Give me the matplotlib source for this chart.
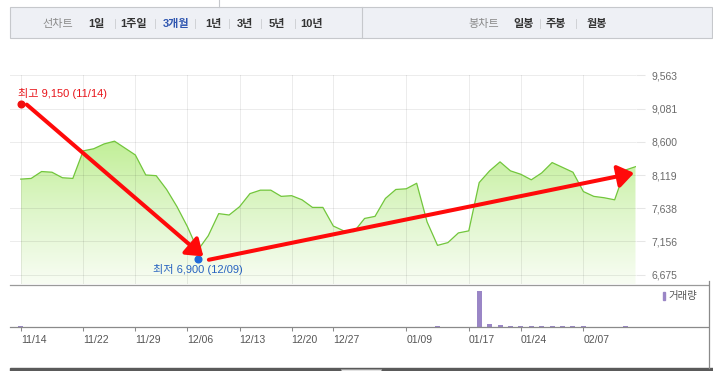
import numpy as np
import pandas as pd
import matplotlib
matplotlib.use("Agg")
import matplotlib.pyplot as plt
from matplotlib.colors import LinearSegmentedColormap
from matplotlib.patches import Rectangle
from matplotlib.lines import Line2D
from matplotlib.transforms import offset_copy

plt.rcParams['font.family'] = ['Liberation Sans', 'Noto Sans CJK KR', 'DejaVu Sans']

# --- data ---
holidays = ['2024-12-25', '2024-12-31', '2025-01-01',
            '2025-01-27', '2025-01-28', '2025-01-29', '2025-01-30']
dates = [d for d in pd.bdate_range('2024-11-14', '2025-02-14')
         if d.strftime('%Y-%m-%d') not in holidays]

close = [8060, 8070, 8170, 8160, 8080, 8070, 8470, 8500, 8570, 8610,
         8510, 8410, 8120, 8110, 7910, 7660, 7370, 7030, 7240, 7560,
         7540, 7660, 7850, 7900, 7900, 7810, 7820, 7760, 7650, 7650,
         7380, 7310, 7300, 7490, 7520, 7780, 7910, 7920, 8000, 7440,
         7100, 7140, 7280, 7310, 8010, 8180, 8310, 8180, 8130, 8050,
         8150, 8300, 8230, 8160, 7880, 7810, 7790, 7760, 8190, 8240]

volume = [35, 0, 0, 0, 0, 0, 0, 0, 0, 0,
          0, 0, 0, 0, 0, 0, 0, 0, 0, 0,
          0, 0, 0, 0, 0, 0, 0, 0, 0, 0,
          0, 0, 0, 0, 0, 0, 0, 0, 0, 0,
          35, 0, 0, 0, 1000, 95, 70, 35, 35, 35,
          35, 35, 35, 35, 35, 0, 0, 0, 35, 0]

high_val, high_date = 9150, '11/14'
low_val, low_date = 6900, '12/09'
y_ticks = [6675, 7156, 7638, 8119, 8600, 9081, 9563]
x_tick_labels = ['11/14', '11/22', '11/29', '12/06', '12/13', '12/20',
                 '12/27', '01/09', '01/17', '01/24', '02/07']

line_tabs = ['1일', '1주일', '3개월', '1년', '3년', '5년', '10년']
candle_tabs = ['일봉', '주봉', '월봉']

# --- setup ---
W, H = 713, 371
fig = plt.figure(figsize=(W / 100, H / 100), dpi=100)
fig.patch.set_facecolor('white')


def fx(px):
    return px / W


def fy(py):
    return 1 - py / H


labels = [d.strftime('%m/%d') for d in dates]
idx = np.arange(len(close))
tick_idx = [labels.index(t) for t in x_tick_labels]
hi_i = labels.index(high_date)
lo_i = labels.index(low_date)

# --- price panel ---
ax = fig.add_axes([fx(10), fy(284), (636 - 10) / W, (284 - 75) / H])
ybot, ytop = 6540, 9569
ax.set_xlim(-1.03, len(close) - 1 + 0.05)
ax.set_ylim(ybot, ytop)

green = LinearSegmentedColormap.from_list('g', ['#f8fdf3', '#dff6cb', '#c2ef98'])
poly = ax.fill_between(idx, close, ybot, color='none')
grad = np.linspace(1, 0, 256).reshape(-1, 1)
im = ax.imshow(grad, cmap=green, aspect='auto', zorder=1,
               extent=[idx[0], idx[-1], ybot, max(close)], origin='upper')
im.set_clip_path(poly.get_paths()[0], transform=ax.transData)
ax.plot(idx, close, color='#72c63c', lw=0.9, zorder=3)

ax.set_xticks(tick_idx)
ax.set_yticks(y_ticks)
ax.set_yticklabels([f'{v:,}' for v in y_ticks])
ax.yaxis.tick_right()
ax.tick_params(axis='x', length=0, labelbottom=False)
ax.tick_params(axis='y', length=6.5, width=0.75, color='#e6e6e6',
               pad=4.3, labelsize=7.5, labelcolor='#6a6a6a')
ax.set_axisbelow('line')
ax.grid(True, color='black', alpha=0.075, lw=0.75)
for s in ax.spines.values():
    s.set_visible(False)

# high / low markers
ax.plot(hi_i, high_val, 'o', color='#f01010', ms=4.8, zorder=5, clip_on=False)
ax.plot(lo_i, low_val, 'o', color='#1f6ad8', ms=4.8, zorder=5, clip_on=False)
ax.annotate(f'최고 {high_val:,} ({high_date})', (hi_i, high_val), xytext=(-2.2, 7.3),
            textcoords='offset points', ha='left', va='center', fontsize=8,
            color='#e8141a', annotation_clip=False)
ax.annotate(f'최저 {low_val:,} ({low_date})', (lo_i, low_val), xytext=(0, -7.8),
            textcoords='offset points', ha='center', va='center', fontsize=8,
            color='#2763c0', annotation_clip=False)


def shifted(dx, dy):
    return offset_copy(ax.transData, fig=fig, x=dx, y=dy, units='dots')


arrow = dict(arrowstyle='-|>,head_length=0.48,head_width=0.34', color='#ff0a0a',
             lw=2.9, shrinkA=0, shrinkB=0, mutation_scale=20)
ax.annotate('', xy=(lo_i, low_val), xycoords=shifted(5.5, 2.7),
            xytext=(hi_i, high_val), textcoords=shifted(6, -0.7),
            arrowprops=arrow, annotation_clip=False, zorder=6)
ax.annotate('', xy=(idx[-1], close[-1]), xycoords=shifted(-1.4, -6.3),
            xytext=(lo_i, low_val), textcoords=shifted(11, -0.6),
            arrowprops=arrow, annotation_clip=False, zorder=6)

# --- volume panel ---
vax = fig.add_axes([fx(10), fy(327.3), (708 - 10) / W, (327.3 - 285) / H])
vax.set_xlim(-1.03, -1.03 + (708 - 10) / 10.42)
vax.set_ylim(0, max(volume) * 1.165)
vax.bar(idx, volume, width=0.48, color='#9a86c6')
vax.set_yticks([])
vax.set_xticks(tick_idx)
vax.set_xticklabels(x_tick_labels, ha='left')
vax.tick_params(axis='x', direction='out', length=3, width=0.75, color='#8a8a8a',
                labelsize=7.5, labelcolor='#555555', pad=2.5)
for s in ['left', 'right']:
    vax.spines[s].set_visible(False)
vax.spines['top'].set_color('#9a9a9a')
vax.spines['bottom'].set_color('#8a8a8a')
vax.spines['top'].set_linewidth(0.9)
vax.spines['bottom'].set_linewidth(0.9)

fig.patches.append(Rectangle((fx(662.5), fy(300)), 2.5 / W, 8 / H,
                             transform=fig.transFigure, color='#9a86c6'))
fig.text(fx(668), fy(296), '거래량', fontsize=7.5, color='#555555',
         ha='left', va='center')

# --- frame pieces ---
fig.lines.append(Line2D([fx(708.5)] * 2, [fy(281), fy(368)],
                        transform=fig.transFigure, color='#8a8a8a', lw=0.9))
fig.patches.append(Rectangle((fx(10), 0), (W - 10) / W, 2.8 / H,
                             transform=fig.transFigure, color='#5a5a5a'))
fig.patches.append(Rectangle((fx(341), 0), 40 / W, 2 / H, transform=fig.transFigure,
                             facecolor='#e2e2e2', edgecolor='#9a9a9a', lw=0.6))

# tab bar
fig.patches.append(Rectangle((fx(10), fy(38.3)), (712 - 10) / W, 31 / H,
                             transform=fig.transFigure, facecolor='#eef0f5',
                             edgecolor='#c6c8cc', lw=0.8))
fig.lines.append(Line2D([fx(362)] * 2, [fy(38.3), fy(7.3)],
                        transform=fig.transFigure, color='#c6c8cc', lw=0.8))
fig.lines.append(Line2D([fx(218.5)] * 2, [fy(7.3), 1],
                        transform=fig.transFigure, color='#c6c8cc', lw=0.8))

ty = fy(23.5)
fig.text(fx(58), ty, '선차트', fontsize=8, color='#8a8a8a', ha='center', va='center')
tab_x = [96.5, 133.5, 176, 213, 244.5, 277, 312]
for i, (t, x) in enumerate(zip(line_tabs, tab_x)):
    col = '#2f56b0' if t == '3개월' else '#333333'
    fig.text(fx(x), ty, t, fontsize=8, color=col, ha='center', va='center',
             fontweight='bold')
    if i < len(line_tabs) - 1:
        sx = (x + tab_x[i + 1]) / 2
        fig.lines.append(Line2D([fx(sx)] * 2, [fy(19), fy(28)],
                                transform=fig.transFigure, color='#d0d2d6', lw=0.7))

fig.text(fx(484), ty, '봉차트', fontsize=8, color='#8a8a8a', ha='center', va='center')
ctab_x = [524, 555.5, 597]
for i, (t, x) in enumerate(zip(candle_tabs, ctab_x)):
    fig.text(fx(x), ty, t, fontsize=8, color='#333333', ha='center', va='center',
             fontweight='bold')
    if i < len(candle_tabs) - 1:
        sx = (x + ctab_x[i + 1]) / 2
        fig.lines.append(Line2D([fx(sx)] * 2, [fy(19), fy(28)],
                                transform=fig.transFigure, color='#d0d2d6', lw=0.7))

fig.savefig('out.png', dpi=100)
